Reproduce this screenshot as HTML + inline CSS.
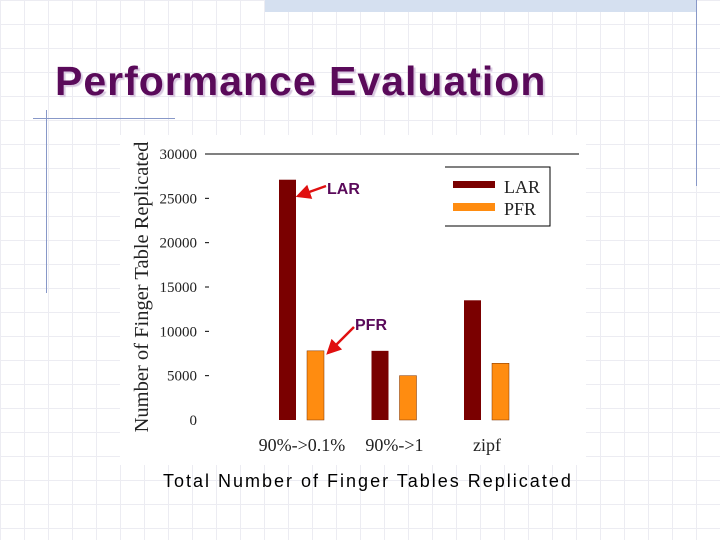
<!DOCTYPE html>
<html><head><meta charset="utf-8"><style>
body{margin:0;width:720px;height:540px;overflow:hidden;background:#fff;font-family:"Liberation Sans",sans-serif}
.bg{position:absolute;left:0;top:0;width:720px;height:540px;
background-image:linear-gradient(to right,#ececf2 1px,transparent 1px),linear-gradient(to bottom,#ececf2 1px,transparent 1px);background-size:24px 24px}
</style></head><body>
<div class="bg"></div>
<div style="position:absolute;left:265px;top:0;width:432px;height:12px;background:#d5e0f0"></div>
<div style="position:absolute;left:696px;top:0;width:1px;height:186px;background:#8898c8"></div>
<div style="position:absolute;left:46px;top:110px;width:1px;height:183px;background:#8898c8"></div>
<div style="position:absolute;left:33px;top:118px;width:142px;height:1px;background:#8898c8"></div>
<div style="position:absolute;left:55px;top:58px;font-size:41px;font-weight:bold;color:#5a0a5a;letter-spacing:1px;text-shadow:2px 2px 1px #d8c8e0;white-space:nowrap">Performance Evaluation</div>
<svg id="chart" width="720" height="540" style="position:absolute;left:0;top:0">
<rect x="120" y="135" width="466" height="330" fill="#fff"/>
</svg>
<div style="position:absolute;left:163px;top:471px;font-size:18px;letter-spacing:2px;color:#000;white-space:nowrap">Total Number of Finger Tables Replicated</div>
<script>
const categories=["90%->0.1%","90%->1","zipf"];
const larValues=[27100,7800,13500];
const pfrValues=[7800,5000,6400];
const yTicks=[0,5000,10000,15000,20000,25000,30000];
const NS="http://www.w3.org/2000/svg";
const svg=document.getElementById('chart');
const y=v=>420-v*(266/30000);
const xc=i=>302+i*92.5;
function mk(t,a,p){const e=document.createElementNS(NS,t);for(const k in a)e.setAttribute(k,a[k]);(p||svg).appendChild(e);return e;}
let l=mk('line',{x1:205,x2:579,y1:154,y2:154,stroke:'#000','stroke-width':1});


yTicks.forEach(v=>{
 const t=mk('text',{x:197,y:y(v)+5,'text-anchor':'end','font-family':'Liberation Serif,serif','font-size':15,fill:'#222'});
 t.textContent=v;
 
 
 if(v>0&&v<30000){const m=mk('line',{x1:205,x2:209,y1:y(v),y2:y(v),stroke:'#000'});
 
 }
});
categories.forEach((c,i)=>{
 const b1=mk('rect',{x:xc(i)-23,y:y(larValues[i]),width:17,height:420-y(larValues[i]),fill:'#7a0000'});
 
 
 const b2=mk('rect',{x:xc(i)+5,y:y(pfrValues[i]),width:17,height:420-y(pfrValues[i]),fill:'#ff8c10',stroke:'#7a3000','stroke-width':0.5});
 
 
 const t=mk('text',{x:xc(i),y:451,'text-anchor':'middle','font-family':'Liberation Serif,serif','font-size':18,fill:'#222'});
 t.textContent=c;
 
 
});
const yt=mk('text',{transform:'translate(148,287) rotate(-90)','text-anchor':'middle','font-family':'Liberation Serif,serif','font-size':20.5,fill:'#222'});
yt.textContent='Number of Finger Table Replicated';


const lg=mk('g',{});


mk('path',{d:'M445 167 H550 V226 H445',fill:'none',stroke:'#000'},lg);
mk('rect',{x:453,y:181,width:42,height:7,fill:'#7a0000'},lg);
mk('rect',{x:453,y:203,width:42,height:8,fill:'#ff8c10'},lg);
const t1=mk('text',{x:504,y:193,'font-family':'Liberation Serif,serif','font-size':18,fill:'#222'},lg);t1.textContent='LAR';
const t2=mk('text',{x:504,y:215,'font-family':'Liberation Serif,serif','font-size':18,fill:'#222'},lg);t2.textContent='PFR';
const defs=mk('defs',{});
const mkr=mk('marker',{id:'ah',markerWidth:6,markerHeight:6,refX:5,refY:3,orient:'auto'},defs);
mk('path',{d:'M0,0 L6,3 L0,6 z',fill:'#e01010'},mkr);
const a1=mk('line',{x1:326,y1:186,x2:298,y2:196,stroke:'#e01010','stroke-width':2.5,'marker-end':'url(#ah)'});


const a2=mk('line',{x1:354,y1:327,x2:328,y2:353,stroke:'#e01010','stroke-width':2.5,'marker-end':'url(#ah)'});


const la=mk('text',{x:327,y:194,'font-family':'Liberation Sans,sans-serif','font-size':16,'font-weight':'bold',fill:'#5a0a5a'});la.textContent='LAR';


const pa=mk('text',{x:355,y:330,'font-family':'Liberation Sans,sans-serif','font-size':16,'font-weight':'bold',fill:'#5a0a5a'});pa.textContent='PFR';


</script>
</body></html>
